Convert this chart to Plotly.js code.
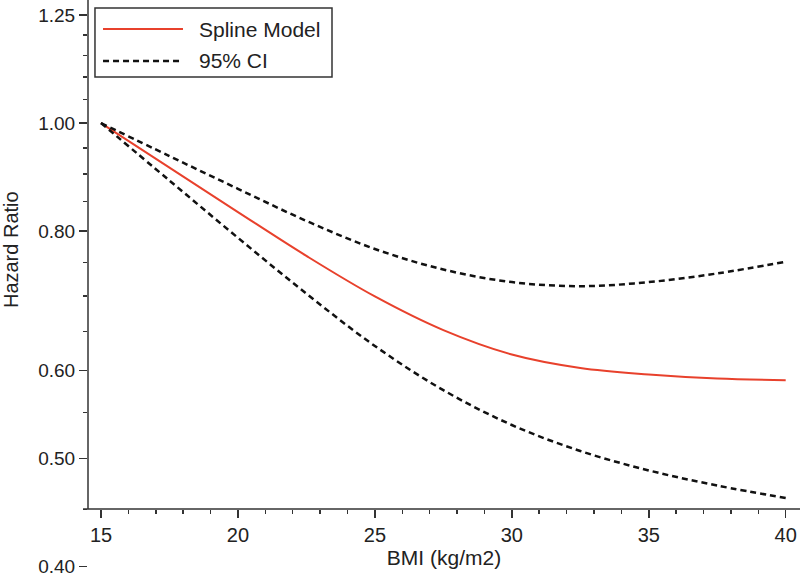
<!DOCTYPE html>
<html>
<head>
<meta charset="utf-8">
<script src="https://cdn.plot.ly/plotly-3.0.1.min.js"></script>
<style>html,body{margin:0;padding:0;background:#fff;}#chart{width:800px;height:576px;}</style>
</head>
<body>
<div id="chart"></div>
<script>
const bmi = [15, 17.5, 20, 22.5, 25, 27.5, 30, 32.5, 35, 37.5, 40];
const splineHR = [1.00, 0.912, 0.832, 0.760, 0.699, 0.652, 0.620, 0.603, 0.595, 0.590, 0.588];
const upperCI = [1.00, 0.934, 0.873, 0.817, 0.771, 0.739, 0.720, 0.714, 0.720, 0.733, 0.751];
const lowerCI = [1.00, 0.888, 0.789, 0.703, 0.631, 0.576, 0.536, 0.508, 0.488, 0.473, 0.461];
const yTickVals = [0.40, 0.50, 0.60, 0.80, 1.00, 1.25];
const yTickText = ['0.40', '0.50', '0.60', '0.80', '1.00', '1.25'];
const yMinorVals = [0.45, 0.55, 0.65, 0.70, 0.75, 0.85, 0.90, 0.95, 1.05, 1.10, 1.15, 1.20];
const xTickVals = [15, 20, 25, 30, 35, 40];
const seriesNames = ['Spline Model', '95% CI'];

const FONT = 'Liberation Sans, Arial, sans-serif';
const AX = '#333333';
const RED = '#e8412c';
const DASHC = '#111111';

const traces = [
  {x: bmi, y: splineHR, name: seriesNames[0], mode: 'lines', showlegend: false,
   line: {color: RED, width: 2, shape: 'spline', smoothing: 1}},
  {x: bmi, y: upperCI, name: seriesNames[1], mode: 'lines', showlegend: false,
   line: {color: DASHC, width: 2.5, dash: '6px,4px', shape: 'spline', smoothing: 1}},
  {x: bmi, y: lowerCI, name: seriesNames[1], mode: 'lines', showlegend: false,
   line: {color: DASHC, width: 2.5, dash: '6px,4px', shape: 'spline', smoothing: 1}}
];

const xAxisPos = 0.1101;
const layout = {
  width: 800, height: 576,
  margin: {l: 88, r: 0, t: 0, b: 4},
  paper_bgcolor: '#ffffff', plot_bgcolor: '#ffffff',
  font: {family: FONT, size: 20, color: '#222222'},
  showlegend: false,
  xaxis: {
    range: [14.5254, 40.522], anchor: 'free', position: xAxisPos,
    showline: false, showgrid: false, zeroline: false,
    tickmode: 'array', tickvals: xTickVals,
    ticks: 'outside', ticklen: 8, tickwidth: 1.5, tickcolor: AX,
    minor: {dtick: 1, tick0: 15, ticks: 'outside', ticklen: 4, tickwidth: 1.5, tickcolor: AX, showgrid: false},
    tickfont: {family: FONT, size: 20, color: '#222222'},
    title: {text: 'BMI (kg/m2)', font: {family: FONT, size: 21, color: '#222222'}, standoff: 2}
  },
  yaxis: {
    type: 'log', range: [-0.402686, 0.110364],
    showline: false, showgrid: false, zeroline: false,
    tickmode: 'array', tickvals: yTickVals, ticktext: yTickText,
    ticks: 'outside', ticklen: 8, tickwidth: 1.5, tickcolor: AX,
    ticklabeloverflow: 'allow',
    minor: {tickmode: 'array', tickvals: yMinorVals, ticks: 'outside', ticklen: 4, tickwidth: 1.5, tickcolor: AX, showgrid: false},
    tickfont: {family: FONT, size: 19, color: '#222222'}
  },
  shapes: [
    {type: 'line', xref: 'paper', yref: 'paper', x0: 0, x1: 0, y0: xAxisPos, y1: 1,
     line: {color: AX, width: 1.5}},
    {type: 'line', xref: 'paper', yref: 'paper', x0: -0.007, x1: 1, y0: xAxisPos, y1: xAxisPos,
     line: {color: AX, width: 1.5}},
    {type: 'rect', xref: 'paper', yref: 'paper', x0: 0.0098, x1: 0.3427, y0: 0.8654, y1: 0.986,
     line: {color: AX, width: 1.5}, fillcolor: 'rgba(255,255,255,0)'},
    {type: 'line', xref: 'paper', yref: 'paper', x0: 0.0211, x1: 0.1334, y0: 0.9493, y1: 0.9493,
     line: {color: RED, width: 2}},
    {type: 'line', xref: 'paper', yref: 'paper', x0: 0.0211, x1: 0.1334, y0: 0.8934, y1: 0.8934,
     line: {color: DASHC, width: 2.5, dash: '6px,4px'}}
  ],
  annotations: [
    {text: 'Hazard Ratio', xref: 'paper', yref: 'paper', x: -0.108, y: 0.563,
     xanchor: 'center', yanchor: 'middle', textangle: -90, showarrow: false,
     font: {family: FONT, size: 20, color: '#222222'}},
    {text: seriesNames[0], xref: 'paper', yref: 'paper', x: 0.1531, y: 0.9493,
     xanchor: 'left', yanchor: 'middle', showarrow: false,
     font: {family: FONT, size: 21, color: '#222222'}},
    {text: seriesNames[1], xref: 'paper', yref: 'paper', x: 0.1531, y: 0.8934,
     xanchor: 'left', yanchor: 'middle', showarrow: false,
     font: {family: FONT, size: 21, color: '#222222'}}
  ]
};

Plotly.newPlot('chart', traces, layout, {displayModeBar: false, staticPlot: true});
</script>
</body>
</html>
